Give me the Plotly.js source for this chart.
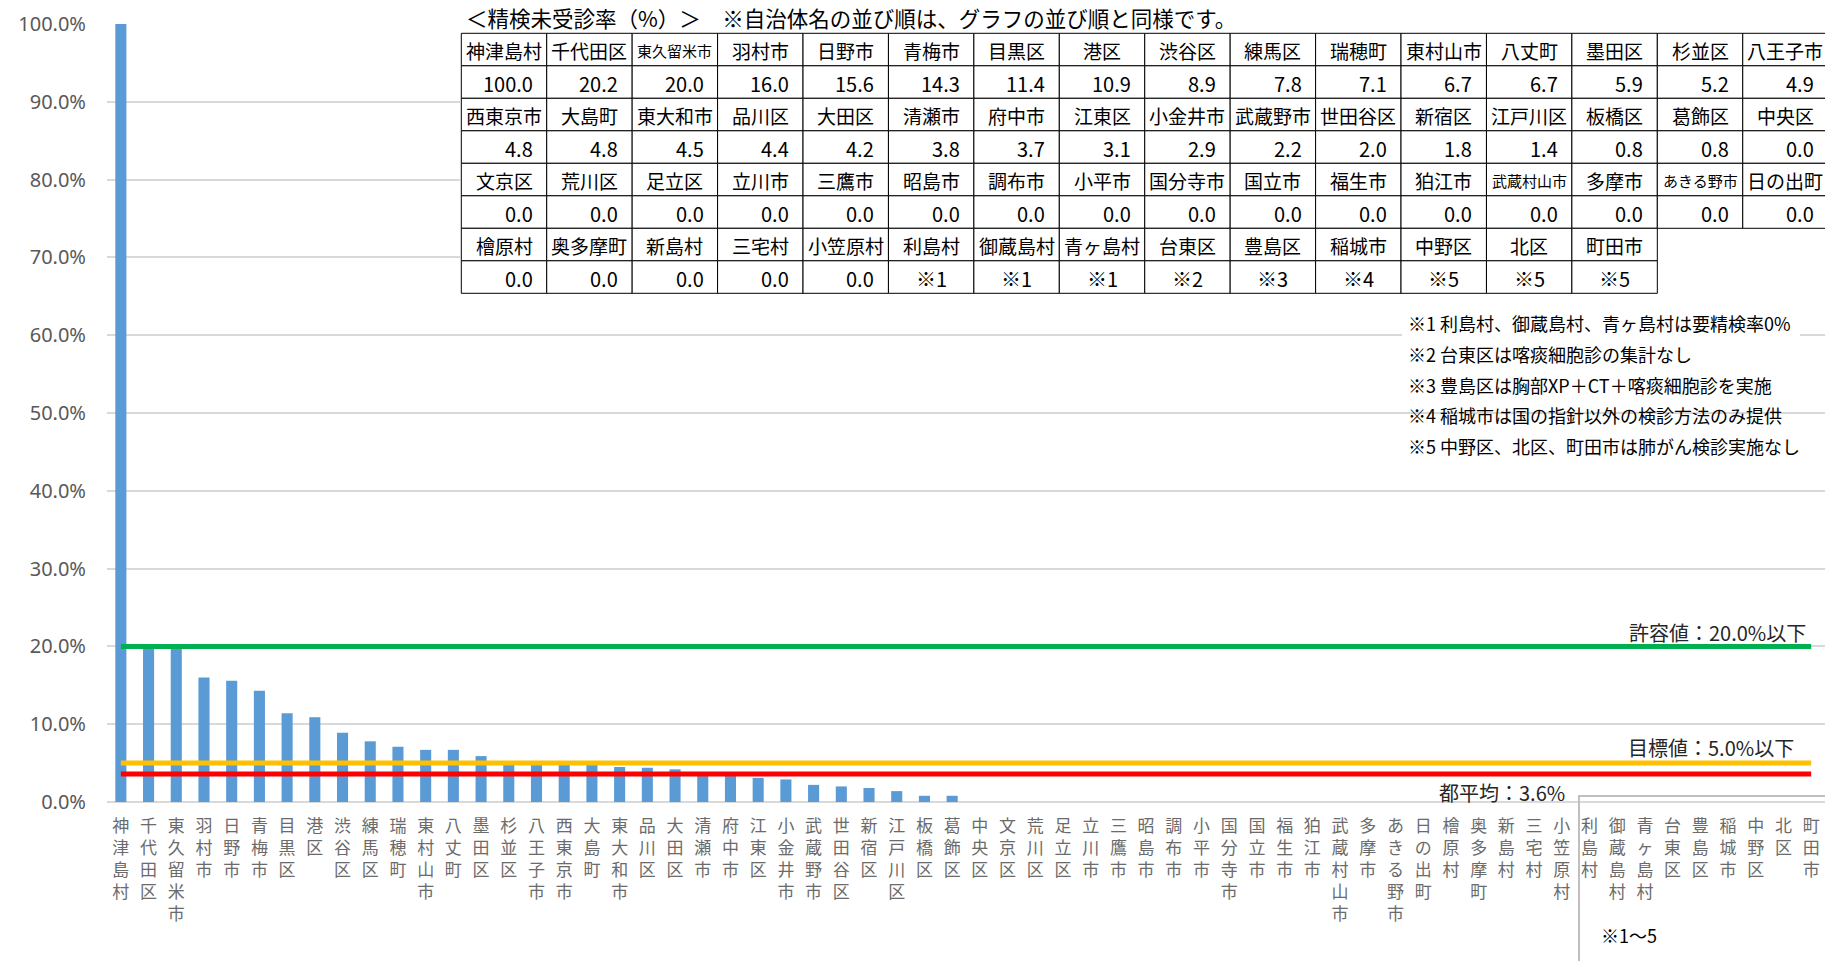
<!DOCTYPE html>
<html><head><meta charset="utf-8">
<script src="https://cdn.plot.ly/plotly-3.0.1.min.js"></script>
<style>html,body{margin:0;padding:0;background:#fff}#chart{width:1825px;height:961px}</style>
</head><body><div id="chart"></div>
<script>
// ---- data ----
const municipalities = [
  '神津島村','千代田区','東久留米市','羽村市','日野市','青梅市','目黒区','港区','渋谷区','練馬区','瑞穂町','東村山市','八丈町','墨田区','杉並区','八王子市',
  '西東京市','大島町','東大和市','品川区','大田区','清瀬市','府中市','江東区','小金井市','武蔵野市','世田谷区','新宿区','江戸川区','板橋区','葛飾区','中央区',
  '文京区','荒川区','足立区','立川市','三鷹市','昭島市','調布市','小平市','国分寺市','国立市','福生市','狛江市','武蔵村山市','多摩市','あきる野市','日の出町',
  '檜原村','奥多摩町','新島村','三宅村','小笠原村','利島村','御蔵島村','青ヶ島村','台東区','豊島区','稲城市','中野区','北区','町田市'
];
const rates = [
  100.0, 20.2, 20.0, 16.0, 15.6, 14.3, 11.4, 10.9, 8.9, 7.8, 7.1, 6.7, 6.7, 5.9, 5.2, 4.9,
  4.8, 4.8, 4.5, 4.4, 4.2, 3.8, 3.7, 3.1, 2.9, 2.2, 2.0, 1.8, 1.4, 0.8, 0.8, 0.0,
  0.0, 0.0, 0.0, 0.0, 0.0, 0.0, 0.0, 0.0, 0.0, 0.0, 0.0, 0.0, 0.0, 0.0, 0.0, 0.0,
  0.0, 0.0, 0.0, 0.0, 0.0, null, null, null, null, null, null, null, null, null
];
const notedMunicipalities = ['利島村','御蔵島村','青ヶ島村','台東区','豊島区','稲城市','中野区','北区','町田市'];
const noteMarks = ['※1','※1','※1','※2','※3','※4','※5','※5','※5'];
const allowableValue = 20.0;
const targetValue = 5.0;
const tokyoAverage = 3.6;
const allowableLabel = '許容値：20.0%以下';
const targetLabel = '目標値：5.0%以下';
const averageLabel = '都平均：3.6%';
const tableTitle = '＜精検未受診率（%）＞　※自治体名の並び順は、グラフの並び順と同様です。';
const footnotes = [
  '※1 利島村、御蔵島村、青ヶ島村は要精検率0%',
  '※2 台東区は喀痰細胞診の集計なし',
  '※3 豊島区は胸部XP＋CT＋喀痰細胞診を実施',
  '※4 稲城市は国の指針以外の検診方法のみ提供',
  '※5 中野区、北区、町田市は肺がん検診実施なし'
];
const groupNote = '※1～5';

// ---- layout geometry (pixels) ----
const W = 1825, H = 961, ML = 107, MR = 0, MT = 24, MB = 159;
const PW = W - ML - MR, PH = H - MT - MB;
const px = p => (p - ML) / PW;
const py = p => (H - MB - p) / PH;
const JP = '"Noto Sans CJK JP", "Noto Sans", sans-serif';

const shapes = [];
const annotations = [];

// white backing behind the title/table area
shapes.push({type:'rect', xref:'paper', yref:'paper', x0:px(460), x1:px(1830), y0:py(-5), y1:py(294),
  fillcolor:'#ffffff', line:{width:0}, layer:'above'});
// white backing behind footnotes (top part)
shapes.push({type:'rect', xref:'paper', yref:'paper', x0:px(1402), x1:px(1800), y0:py(310), y1:py(398),
  fillcolor:'#ffffff', line:{width:0}, layer:'above'});

annotations.push({xref:'paper', yref:'paper', x:px(465), y:py(0.5), xanchor:'left', yanchor:'top', borderpad:0,
  text:tableTitle, showarrow:false, font:{family:JP, size:21.5, color:'#000'}});

// table
const tLeft = 461.3, tTop = 33.3, colW = 85.43, rowH = 32.5, nCols = 16;
municipalities.forEach((name, i) => {
  const col = i % nCols, band = Math.floor(i / nCols);
  const x0 = tLeft + col * colW, x1 = x0 + colW;
  const yName = tTop + band * 2 * rowH, yVal = yName + rowH;
  [yName, yVal].forEach(y0 => shapes.push({type:'rect', xref:'paper', yref:'paper',
    x0:px(x0), x1:px(x1), y0:py(y0), y1:py(y0 + rowH), fillcolor:'#ffffff',
    line:{color:'#000000', width:1}, layer:'above'}));
  annotations.push({xref:'paper', yref:'paper', x:px((x0 + x1) / 2), y:py(yName + rowH / 2 + 1),
    xanchor:'center', yanchor:'middle', showarrow:false, text:name,
    font:{family:JP, size: name.length >= 5 ? 15 : 19, color:'#000'}});
  const r = rates[i];
  if (r !== null) {
    annotations.push({xref:'paper', yref:'paper', x:px(x1 - 12), y:py(yVal + rowH / 2 + 1),
      xanchor:'right', yanchor:'middle', showarrow:false, text:r.toFixed(1),
      font:{family:JP, size:20, color:'#000'}});
  } else {
    const k = notedMunicipalities.indexOf(name);
    annotations.push({xref:'paper', yref:'paper', x:px((x0 + x1) / 2), y:py(yVal + rowH / 2 + 1),
      xanchor:'center', yanchor:'middle', showarrow:false, text:noteMarks[k],
      font:{family:JP, size:20, color:'#000'}});
  }
});

// footnotes
footnotes.forEach((t, i) => annotations.push({xref:'paper', yref:'paper', x:px(1406), y:py(323 + i * 30.8),
  xanchor:'left', yanchor:'middle', showarrow:false, text:t, font:{family:JP, size:18, color:'#000'}}));

// reference line labels
annotations.push({xref:'paper', yref:'y', x:px(1808), y:allowableValue, xanchor:'right', yanchor:'bottom', yshift:-3,
  showarrow:false, text:allowableLabel, font:{family:JP, size:20, color:'#262626'}});
annotations.push({xref:'paper', yref:'y', x:px(1796), y:targetValue, xanchor:'right', yanchor:'bottom', yshift:-1,
  showarrow:false, text:targetLabel, font:{family:JP, size:20, color:'#262626'}});
annotations.push({xref:'paper', yref:'y', x:px(1567), y:tokyoAverage, xanchor:'right', yanchor:'top', yshift:-2,
  showarrow:false, text:averageLabel, font:{family:JP, size:20, color:'#262626'}});

// bottom-right bracket box
shapes.push({type:'rect', xref:'paper', yref:'paper', x0:px(1579), x1:px(1835), y0:py(796), y1:py(975),
  fillcolor:'rgba(0,0,0,0)', line:{color:'#BFBFBF', width:2}, layer:'above'});
annotations.push({xref:'paper', yref:'paper', x:px(1599), y:py(935), xanchor:'left', yanchor:'middle',
  showarrow:false, text:groupNote, font:{family:JP, size:18, color:'#000'}});

const first = municipalities[0], last = municipalities[municipalities.length - 1];
const traces = [
  {type:'bar', x:municipalities, y:rates, marker:{color:'#5B9BD5'}, hoverinfo:'skip'},
  {type:'scatter', mode:'lines', x:[first, last], y:[allowableValue, allowableValue], line:{color:'#00B050', width:5}, hoverinfo:'skip'},
  {type:'scatter', mode:'lines', x:[first, last], y:[targetValue, targetValue], line:{color:'#FFC000', width:5}, hoverinfo:'skip'},
  {type:'scatter', mode:'lines', x:[first, last], y:[tokyoAverage, tokyoAverage], line:{color:'#FF0000', width:5}, hoverinfo:'skip'}
];

const layout = {
  width: W, height: H,
  margin: {l: ML, r: MR, t: MT, b: MB, pad: 0},
  paper_bgcolor: '#ffffff', plot_bgcolor: '#ffffff',
  showlegend: false, bargap: 0.6,
  xaxis: {type:'category', tickvals: municipalities,
    ticktext: municipalities.map(n => n.split('').join('<br>')),
    tickangle: 0, showgrid:false, showline:false, zeroline:false, ticks:'',
    ticklabelstandoff: 12, automargin:false,
    tickfont:{family:JP, size:17, color:'#6b6b6b'}, range:[-0.5, municipalities.length - 0.5]},
  yaxis: {range:[0, 100], dtick:10, tick0:0, tickformat:'.1f', ticksuffix:'%',
    showgrid:true, gridcolor:'#D9D9D9', gridwidth:2, zeroline:true, zerolinecolor:'#D9D9D9', zerolinewidth:2,
    showline:false, ticks:'', ticklabelstandoff: 20, automargin:false,
    tickfont:{family:'"Noto Sans", sans-serif', size:20, color:'#595959'}},
  shapes: shapes, annotations: annotations
};

Plotly.newPlot('chart', traces, layout, {displayModeBar:false, staticPlot:true});
</script>
</body></html>
